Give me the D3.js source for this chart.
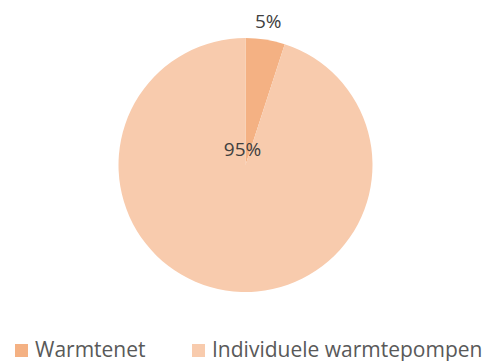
<!DOCTYPE html>
<html>
<head>
<meta charset="utf-8">
<script src="https://cdn.jsdelivr.net/npm/d3@7"></script>
<style>
  body { margin: 0; background: #fff; }
  svg { display: block; }
</style>
</head>
<body>
<div id="chart"></div>
<script>
// data
const categories = ['Warmtenet', 'Individuele warmtepompen']
const values = [5, 95]
const labels = ['5%', '95%']
const colors = ['#F4B183', '#F8CBAD']

const width = 494, height = 361
const cx = 245.5, cy = 165, radius = 127

const svg = d3.select('#chart').append('svg')
    .attr('width', width)
    .attr('height', height)

const pie = d3.pie().sort(null).value(d => d)
const arcs = pie(values)
const arc = d3.arc().innerRadius(0).outerRadius(radius)

const g = svg.append('g').attr('transform', `translate(${cx},${cy})`)

g.selectAll('path')
    .data(arcs)
    .enter()
    .append('path')
    .attr('d', arc)
    .attr('fill', (d, i) => colors[i])

// small slice label sits outside, big slice label near the middle (best fit)
const outerLabel = d3.arc().innerRadius(145).outerRadius(145)
g.append('text')
    .attr('x', outerLabel.centroid(arcs[0])[0])
    .attr('y', outerLabel.centroid(arcs[0])[1])
    .attr('text-anchor', 'middle')
    .attr('dy', '0.35em')
    .attr('font-family', 'Open Sans')
    .attr('font-size', 19)
    .attr('fill', '#404040')
    .text(labels[0])

g.append('text')
    .attr('x', -3)
    .attr('y', -16)
    .attr('text-anchor', 'middle')
    .attr('dy', '0.35em')
    .attr('font-family', 'Open Sans')
    .attr('font-size', 19)
    .attr('fill', '#404040')
    .text(labels[1])

// legend
const legendX = [15, 192]
const legend = svg.append('g')
categories.forEach(function (c, i) {
    legend.append('rect')
        .attr('x', legendX[i])
        .attr('y', 344)
        .attr('width', 13)
        .attr('height', 13)
        .attr('fill', colors[i])
    legend.append('text')
        .attr('x', legendX[i] + 20)
        .attr('y', 357)
        .attr('font-family', 'Open Sans')
        .attr('font-size', 21)
        .attr('fill', '#595959')
        .text(c)
})
</script>
</body>
</html>
